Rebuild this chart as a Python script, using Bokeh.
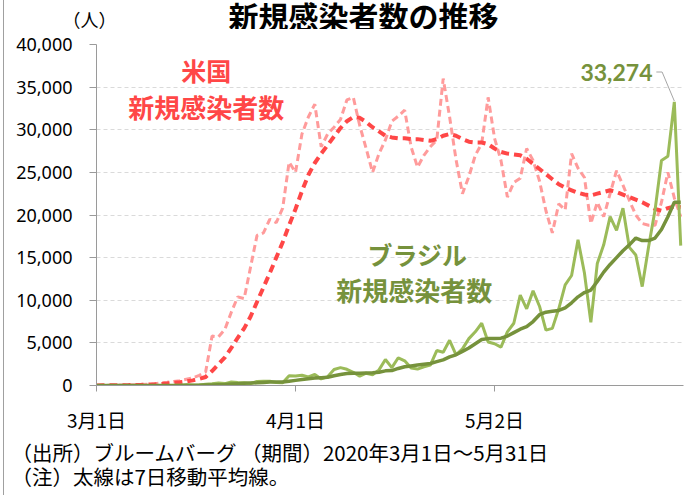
from bokeh.plotting import figure
from bokeh.layouts import column
from bokeh.models import Range1d, FixedTicker, NumeralTickFormatter, Label, ColumnDataSource
from bokeh.embed import file_html
from bokeh.resources import INLINE
import pandas as pd

dates = pd.date_range("2020-03-01", "2020-05-31", freq="D")

us_daily = [10, 20, 25, 35, 60, 80, 100, 110, 160, 200,
            290, 380, 480, 560, 730, 900, 1200, 1600, 5800, 5700,
            6600, 8600, 10400, 10200, 13900, 17600, 17900, 19500, 19100, 20800,
            26200, 25000, 29500, 31500, 33000, 28000, 29500, 30300, 31200, 33500,
            33800, 30500, 27800, 25000, 27200, 28800, 31000, 31600, 32300, 28000,
            25600, 27000, 28000, 28800, 36000, 31500, 26500, 22500, 24500, 27000,
            28400, 33800, 29000, 26400, 22100, 23800, 24300, 27800, 26400, 24000,
            20500, 17900, 21300, 20600, 27200, 25500, 24400, 19000, 21500, 19800,
            22500, 25200, 23500, 21700, 20000, 19000, 18800, 18800, 21500, 25000,
            22000, 19800]

us_avg = [10, 15, 20, 30, 40, 50, 70, 80, 100, 130,
          170, 230, 300, 370, 470, 600, 780, 1000, 1700, 2500,
          3300, 4400, 5600, 6700, 8100, 9800, 11500, 13200, 15000, 16800,
          18800, 20700, 22800, 24700, 26100, 27200, 28200, 29200, 30200, 31000,
          31500, 31400, 30900, 30300, 29800, 29300, 29100, 29000, 29000, 28900,
          28900, 28800, 28700, 28900, 29300, 29500, 29300, 28900, 28600, 28500,
          28500, 28300, 27800, 27400, 27200, 27100, 27000, 26600, 26000, 25400,
          24800, 24200, 23600, 23200, 22900, 22600, 22400, 22300, 22500, 22700,
          22900, 22700, 22400, 22100, 21800, 21500, 21100, 20700, 20500, 20800,
          21000, 20900]

br_daily = [0, 0, 0, 0, 1, 5, 0, 6, 5, 6,
            5, 12, 23, 40, 79, 34, 57, 137, 193, 283,
            224, 418, 345, 310, 232, 482, 502, 487, 352, 323,
            1140, 1120, 1210, 1010, 1300, 770, 1030, 1870, 2100, 1900,
            1550, 1090, 1440, 1260, 1830, 3050, 2100, 3250, 2900, 2050,
            1930, 2200, 2400, 4100, 3900, 5300, 3600, 4300, 5500, 6300,
            7300, 5100, 4900, 4500, 6300, 7300, 10600, 9000, 11100, 9300,
            6500, 6700, 9000, 11800, 12900, 17100, 13200, 7400, 14300, 16500,
            19800, 18200, 20800, 16200, 15300, 11600, 16300, 20600, 26400, 26900,
            33274, 16400]

br_avg = [0, 0, 0, 0, 0, 1, 2, 2, 3, 3,
          4, 5, 7, 10, 20, 25, 30, 50, 70, 100,
          130, 180, 220, 260, 290, 320, 360, 400, 400, 400,
          500, 600, 700, 790, 880, 920, 960, 1150, 1300, 1400,
          1450, 1450, 1480, 1500, 1560, 1720, 1750, 2000, 2200, 2300,
          2400, 2500, 2580, 2800, 3000, 3350, 3600, 4000, 4400, 4900,
          5400, 5500, 5500, 5550, 5800, 6200, 6600, 6900, 7500, 8300,
          8600, 8700, 8800, 9100, 9700, 10400, 10900, 11200, 12200, 13300,
          14200, 15000, 15800, 16500, 17300, 17000, 17000, 17300, 18300, 19800,
          21500, 21500]

y_ticks = [0, 5000, 10000, 15000, 20000, 25000, 30000, 35000, 40000]
x_tick_dates = ["2020-03-01", "2020-04-01", "2020-05-02"]
x_tick_labels = ["3月1日", "4月1日", "5月2日"]

title_text = "新規感染者数の推移"
unit_text = "（人）"
notes = ["（出所）ブルームバーグ （期間）2020年3月1日～5月31日", "（注）太線は7日移動平均線。"]

day = [(d - dates[0]).days for d in dates]
src = ColumnDataSource(dict(day=day, us=us_daily, usavg=us_avg, br=br_daily, bravg=br_avg))
x_ticks = [(pd.Timestamp(s) - dates[0]).days for s in x_tick_dates]

JP = "Noto Sans CJK JP"
RED_LIGHT = "#FF9B9B"
RED = "#FF4747"
GREEN_LIGHT = "#9BBB59"
GREEN = "#76923C"
W = 693
LEFT, RIGHT = 96, 10
EDGE = {"background": "linear-gradient(to right, #ffffff 3px, #A0A0A0 3px, #A0A0A0 4px, #ffffff 4px)"}


def make_label(x, y, t, size, color, bold=True, align="center", font=JP):
    return Label(x=x, y=y, text=t, text_align=align, text_baseline="middle",
                 text_font=font, text_font_style="bold" if bold else "normal",
                 text_font_size=size, text_color=color)


# ---- header strip (title + unit); its frame lines up with the chart frame
HEAD_H = 29
head = figure(width=W, height=HEAD_H, output_backend="svg", toolbar_location=None,
              x_range=Range1d(LEFT, W - RIGHT), y_range=Range1d(0, HEAD_H),
              min_border_left=LEFT, min_border_right=RIGHT, min_border_top=0, min_border_bottom=0,
              x_axis_location=None, y_axis_location=None)
head.xgrid.visible = False
head.ygrid.visible = False
head.outline_line_color = None
head.background_fill_color = None
head.border_fill_color = None
head.styles = EDGE
head.add_layout(make_label(363, HEAD_H - 14.5, title_text, "30px", "#000000"))
head.add_layout(make_label(89, HEAD_H - 18.5, unit_text, "18px", "#000000", bold=False), "left")

# ---- main chart
p = figure(width=W, height=495 - HEAD_H, output_backend="svg", toolbar_location=None,
           x_range=Range1d(0, 91.43), y_range=Range1d(0, 40000),
           min_border_left=LEFT, min_border_right=RIGHT, min_border_top=15, min_border_bottom=109)
p.outline_line_color = None
p.border_fill_color = None
p.background_fill_color = "white"
p.styles = EDGE
p.xgrid.visible = False
p.ygrid.grid_line_color = "#DADADA"
p.ygrid.grid_line_dash = "4 3"
p.ygrid.grid_line_width = 1

p.yaxis.ticker = FixedTicker(ticks=y_ticks)
p.yaxis.formatter = NumeralTickFormatter(format="0,0")
p.xaxis.ticker = FixedTicker(ticks=x_ticks)
p.xaxis.major_label_overrides = {t: l for t, l in zip(x_ticks, x_tick_labels)}
for ax in (p.xaxis[0], p.yaxis[0]):
    ax.axis_line_color = "#9A9A9A"
    ax.major_tick_line_color = "#9A9A9A"
    ax.minor_tick_line_color = None
    ax.major_tick_in = 0
    ax.major_tick_out = 7
    ax.major_label_text_color = "#000000"
p.yaxis.major_label_text_font = "Noto Sans"
p.yaxis.major_label_text_font_size = "18px"
p.yaxis.major_label_standoff = 17
p.xaxis.major_tick_out = 6
p.xaxis.major_label_text_font = JP
p.xaxis.major_label_text_font_size = "19px"
p.xaxis.major_label_standoff = 14

p.line("day", "us", source=src, line_color=RED_LIGHT, line_width=3, line_dash="7 4")
p.line("day", "usavg", source=src, line_color=RED, line_width=4, line_dash="8 5")
p.line("day", "br", source=src, line_color=GREEN_LIGHT, line_width=3)
p.line("day", "bravg", source=src, line_color=GREEN, line_width=3.5)

# peak annotation
peak_i = max(range(len(br_daily)), key=lambda i: br_daily[i])
peak_d, peak_v = day[peak_i], br_daily[peak_i]
p.line([peak_d - 2.8, peak_d - 1.9, peak_d], [peak_v + 3500, peak_v + 3500, peak_v + 100],
       line_color="#A6A6A6", line_width=1)
p.add_layout(Label(x=peak_d - 3.4, y=peak_v + 3500, text=f"{peak_v:,}", text_align="right",
                   text_baseline="middle", text_font="Lato", text_font_style="bold",
                   text_font_size="23px", text_color=GREEN))

p.add_layout(make_label(17.1, 36960, "米国", "25px", RED))
p.add_layout(make_label(17.1, 32750, "新規感染者数", "26px", RED))
p.add_layout(make_label(50.0, 15440, "ブラジル", "25px", GREEN))
p.add_layout(make_label(49.5, 11230, "新規感染者数", "26px", GREEN))

# footnotes sit in the bottom border panel (positioned in data units)
p.add_layout(make_label(-13.24, -7836, notes[0], "20.5px", "#000000", bold=False, align="left"), "below")
p.add_layout(make_label(-13.24, -10643, notes[1], "20.5px", "#000000", bold=False, align="left"), "below")

layout = column(head, p, spacing=0)
open("out.html", "w").write(file_html(layout, INLINE))
